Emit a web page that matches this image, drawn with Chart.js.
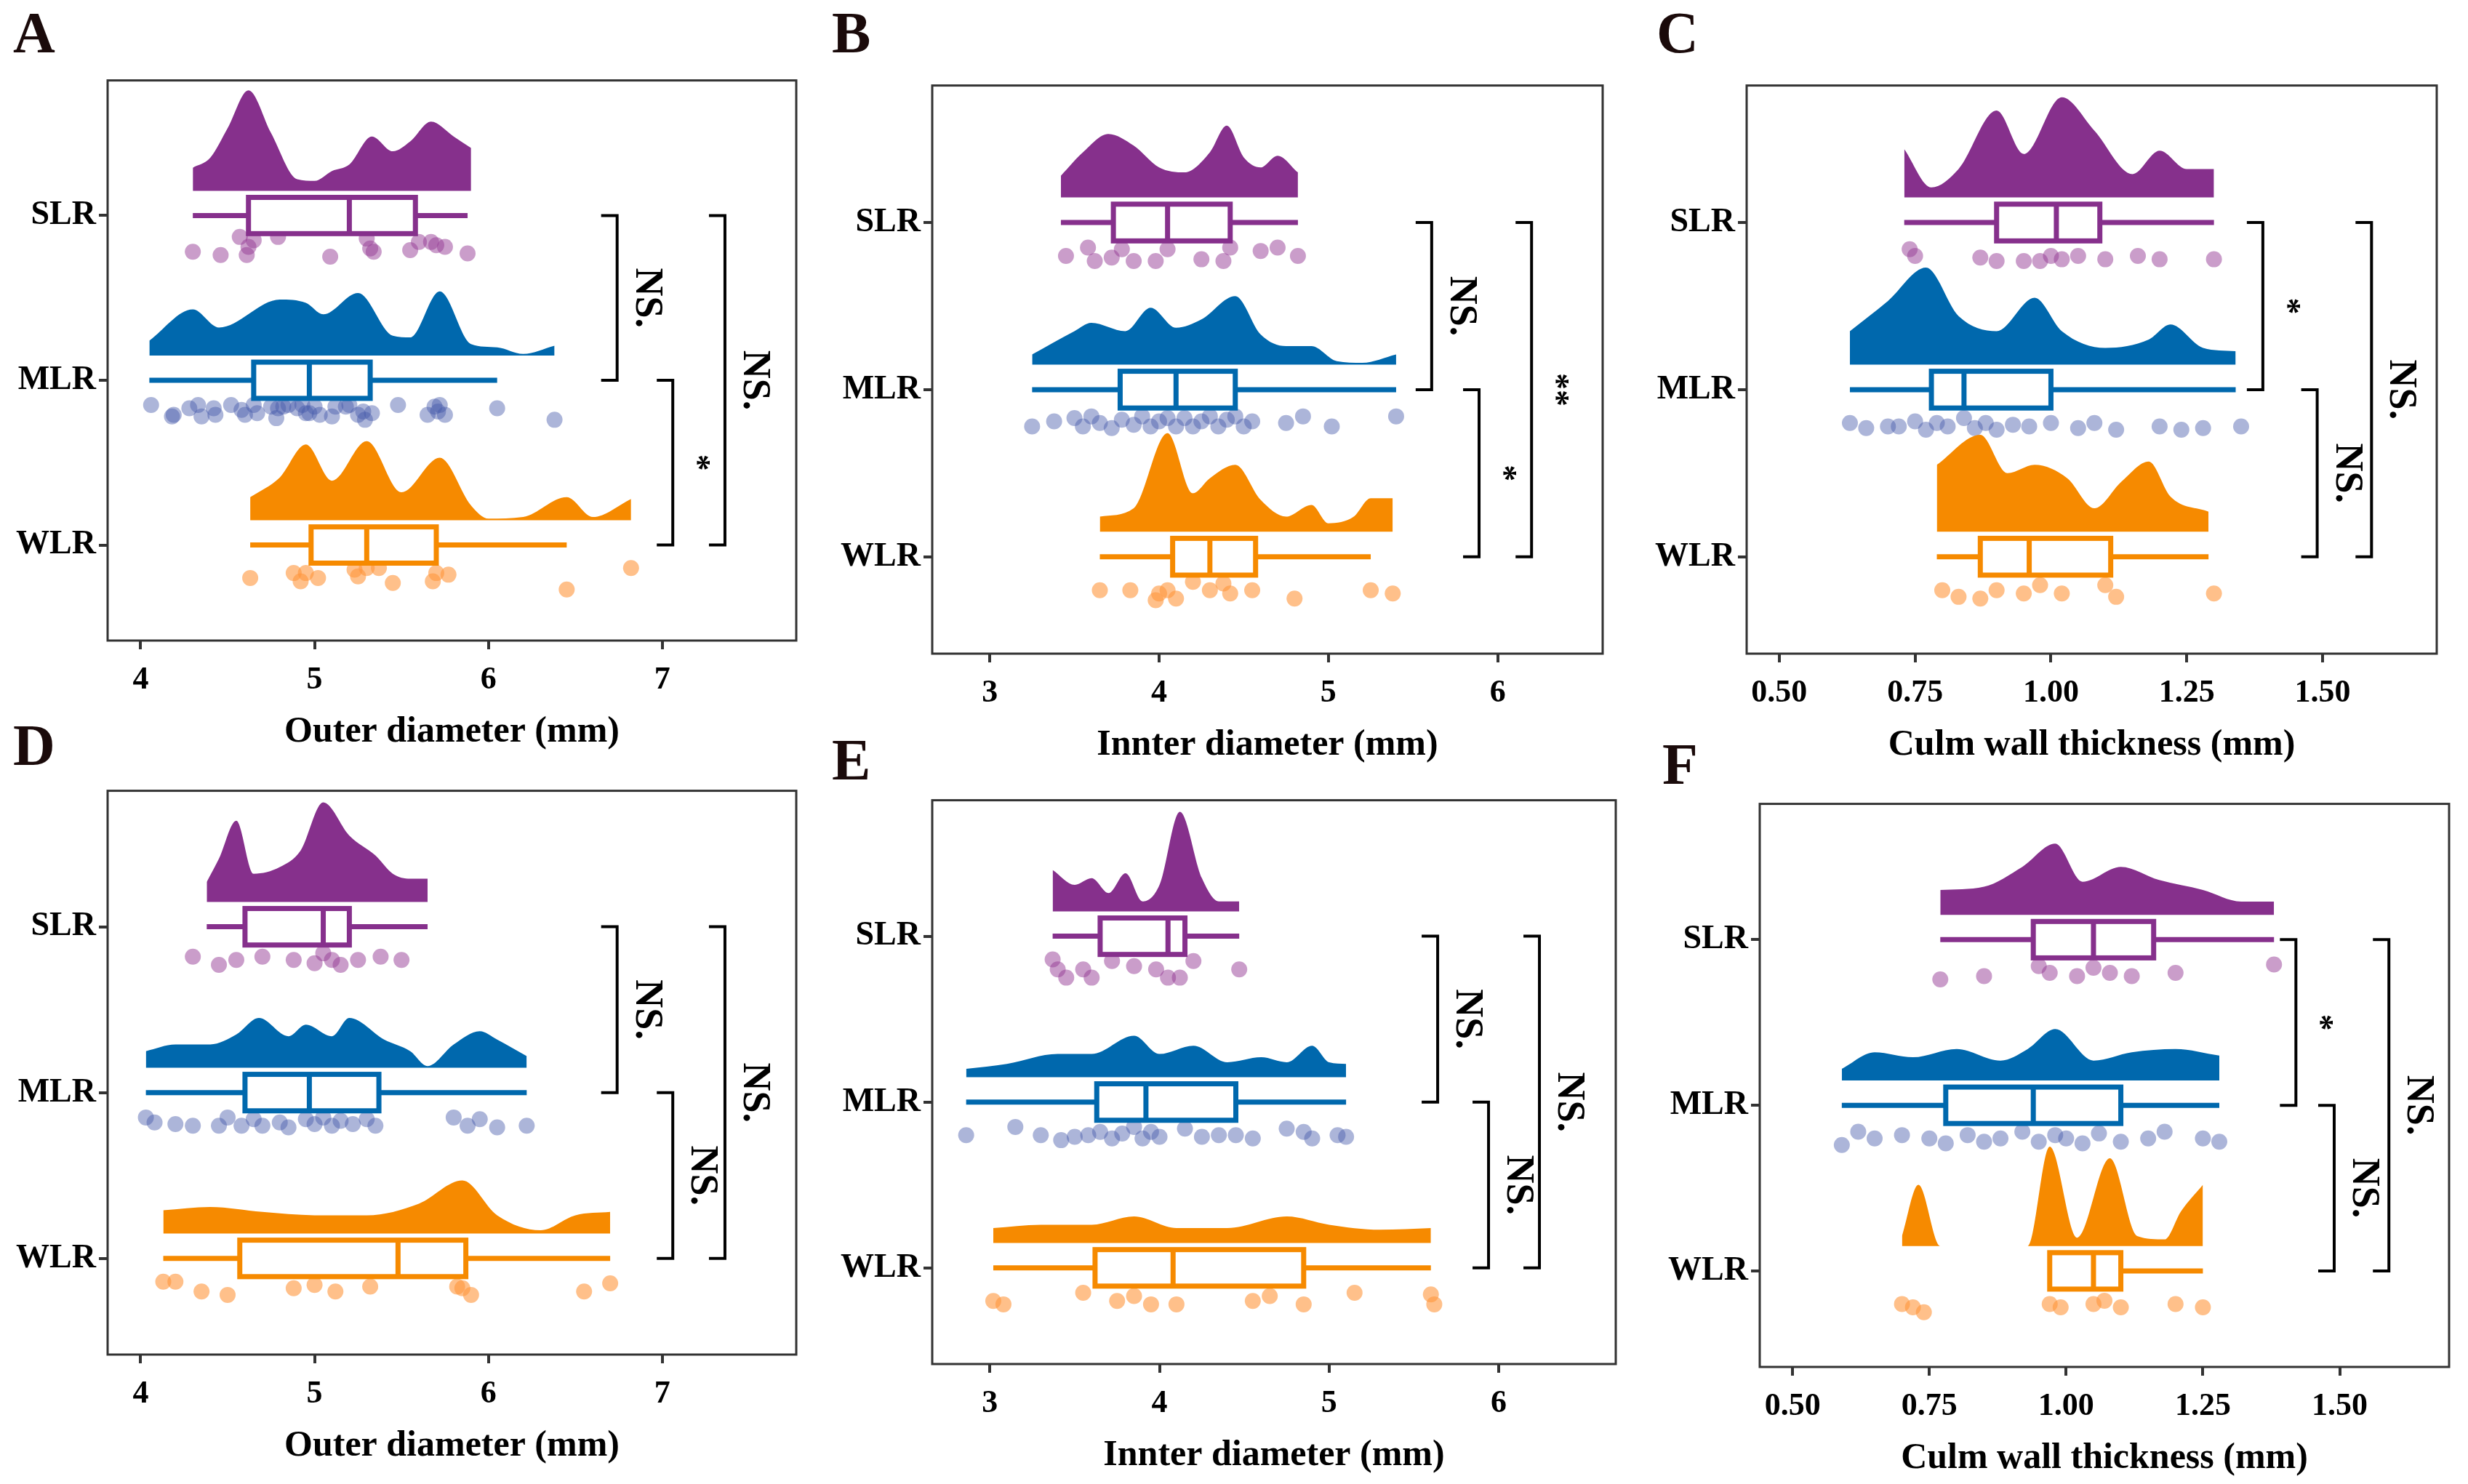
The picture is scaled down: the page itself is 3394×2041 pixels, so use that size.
<!DOCTYPE html>
<html><head><meta charset="utf-8">
<script src="https://cdn.jsdelivr.net/npm/chart.js@4.4.0/dist/chart.umd.min.js"></script>
<style>
body{margin:0;background:#fff;width:3394px;height:2041px;position:relative;overflow:hidden}
.pan{position:absolute}
.lt{position:absolute;font:bold 80px "Liberation Serif";color:#1a0a0a}
</style></head><body>
<div class="lt" style="left:18px;top:0px">A</div>
<div class="lt" style="left:1144px;top:0px">B</div>
<div class="lt" style="left:2278px;top:0px">C</div>
<div class="lt" style="left:18px;top:980px">D</div>
<div class="lt" style="left:1144px;top:1000px">E</div>
<div class="lt" style="left:2286px;top:1006px">F</div>
<script>
const groups = ["WLR","MLR","SLR"];   // y = 1,2,3
const colors = ["#f68a00","#0068ad","#86308c"];
const dotColors = ["rgba(255,150,60,0.6)","rgba(70,90,170,0.45)","rgba(150,60,150,0.5)"];

// ---- A: outer diameter ----
const aDensX = [
  [4.63,4.8,4.95,5.1,5.3,5.5,5.72,5.9,6.0,6.2,6.45,6.6,6.82],
  [4.05,4.3,4.45,4.8,4.95,5.05,5.25,5.45,5.55,5.72,5.9,6.05,6.2,6.38],
  [4.3,4.4,4.5,4.62,4.75,4.9,5.0,5.1,5.2,5.33,5.45,5.55,5.67,5.8,5.9]];
const aDensH = [
  [0.14,0.26,0.46,0.24,0.48,0.17,0.38,0.09,0.01,0.02,0.14,0.02,0.13],
  [0.09,0.28,0.17,0.34,0.32,0.25,0.38,0.12,0.11,0.39,0.07,0.05,0.01,0.06],
  [0.14,0.2,0.38,0.61,0.35,0.07,0.06,0.12,0.16,0.33,0.24,0.3,0.42,0.33,0.26]];
const aBox = [[4.63,4.98,5.3,5.7,6.45],[4.05,4.65,4.97,5.32,6.05],[4.3,4.62,5.2,5.58,5.88]];
const aDots = [
  [[4.63,.2],[4.88,.17],[4.92,.22],[4.95,.17],[5.02,.2],[5.23,.15],[5.25,.19],[5.3,.14],[5.37,.14],[5.45,.23],[5.68,.22],[5.7,.17],[5.77,.18],[6.45,.27],[6.82,.14]],
  [[4.06,.15],[4.18,.22],[4.19,.21],[4.28,.17],[4.33,.15],[4.35,.22],[4.42,.17],[4.43,.21],[4.52,.15],[4.58,.18],[4.6,.21],[4.65,.15],[4.67,.2],[4.75,.16],[4.78,.23],[4.79,.17],[4.82,.16],[4.85,.15],[4.9,.17],[4.93,.15],[4.95,.2],[4.97,.2],[5.0,.16],[5.03,.21],[5.1,.22],[5.12,.16],[5.18,.16],[5.2,.15],[5.25,.21],[5.28,.19],[5.29,.24],[5.33,.2],[5.48,.15],[5.65,.21],[5.69,.16],[5.71,.19],[5.72,.15],[5.75,.21],[6.05,.17],[6.38,.24]],
  [[4.3,.22],[4.46,.24],[4.57,.13],[4.61,.24],[4.62,.19],[4.65,.15],[4.79,.13],[5.09,.25],[5.3,.14],[5.32,.2],[5.34,.22],[5.55,.21],[5.6,.16],[5.67,.16],[5.7,.18],[5.75,.19],[5.88,.23]]];
const aTicks = [4,5,6,7];
const aBr = [{lo:2,hi:3,x:6.74,t:"NS."},{lo:1,hi:2,x:7.06,t:"*"},{lo:1,hi:3,x:7.36,t:"NS."}];

// ---- B: inner diameter ----
const bDensX = [
  [3.65,3.85,4.05,4.2,4.3,4.45,4.6,4.75,4.9,5.0,5.15,5.25,5.38],
  [3.25,3.5,3.6,3.8,3.95,4.1,4.25,4.45,4.6,4.75,4.9,5.05,5.2,5.4],
  [3.42,3.55,3.7,3.85,4.0,4.15,4.3,4.4,4.5,4.6,4.7,4.82]];
const bDensH = [
  [0.09,0.14,0.59,0.23,0.32,0.4,0.19,0.09,0.16,0.05,0.09,0.2,0.2],
  [0.06,0.2,0.25,0.2,0.34,0.22,0.27,0.41,0.18,0.11,0.11,0.02,0.01,0.06],
  [0.13,0.27,0.38,0.31,0.18,0.15,0.27,0.43,0.24,0.18,0.25,0.15]];
const bBox = [[3.65,4.08,4.3,4.57,5.25],[3.25,3.77,4.1,4.45,5.4],[3.42,3.73,4.05,4.42,4.82]];
const bDots = [
  [[3.65,.2],[3.83,.2],[3.98,.26],[4.0,.22],[4.05,.2],[4.1,.25],[4.2,.15],[4.3,.2],[4.38,.16],[4.42,.22],[4.55,.2],[4.8,.25],[5.25,.2],[5.38,.22]],
  [[3.25,.22],[3.38,.19],[3.5,.17],[3.55,.22],[3.6,.16],[3.65,.2],[3.72,.23],[3.78,.18],[3.85,.21],[3.9,.16],[3.95,.22],[4.0,.19],[4.05,.17],[4.1,.22],[4.15,.17],[4.2,.22],[4.25,.19],[4.3,.16],[4.35,.22],[4.4,.18],[4.45,.16],[4.5,.22],[4.55,.19],[4.75,.2],[4.85,.16],[5.02,.22],[5.4,.16]],
  [[3.45,.2],[3.58,.15],[3.62,.23],[3.72,.21],[3.78,.16],[3.85,.23],[3.98,.23],[4.05,.16],[4.25,.22],[4.38,.23],[4.42,.15],[4.6,.17],[4.7,.15],[4.82,.2]]];
const bTicks = [3,4,5,6];
const bBr = [{lo:2,hi:3,x:5.61,t:"NS."},{lo:1,hi:2,x:5.89,t:"*"},{lo:1,hi:3,x:6.2,t:"**"}];

// ---- C: culm wall thickness ----
const cDensX = [
  [0.79,0.87,0.92,0.97,1.03,1.08,1.13,1.18,1.22,1.29],
  [0.63,0.7,0.77,0.83,0.9,0.97,1.02,1.1,1.18,1.22,1.28,1.34],
  [0.73,0.78,0.83,0.9,0.95,1.02,1.08,1.15,1.2,1.25,1.3]];
const cDensH = [
  [0.4,0.58,0.35,0.4,0.32,0.14,0.3,0.42,0.21,0.12],
  [0.2,0.38,0.58,0.29,0.2,0.4,0.2,0.1,0.15,0.24,0.1,0.08],
  [0.29,0.06,0.17,0.52,0.26,0.6,0.4,0.14,0.28,0.17,0.17]];
const cBox = [[0.79,0.87,0.96,1.11,1.29],[0.63,0.78,0.84,1.0,1.34],[0.73,0.9,1.01,1.09,1.3]];
const cDots = [
  [[0.8,.2],[0.83,.24],[0.87,.25],[0.9,.2],[0.95,.22],[0.98,.17],[1.02,.22],[1.1,.17],[1.12,.24],[1.3,.22]],
  [[0.63,.2],[0.66,.23],[0.7,.22],[0.72,.22],[0.75,.19],[0.77,.24],[0.79,.2],[0.81,.22],[0.84,.17],[0.86,.23],[0.88,.2],[0.9,.24],[0.93,.21],[0.96,.22],[1.0,.2],[1.05,.23],[1.08,.2],[1.12,.24],[1.2,.22],[1.24,.24],[1.28,.23],[1.35,.22]],
  [[0.74,.16],[0.75,.2],[0.87,.21],[0.9,.23],[0.95,.23],[0.98,.23],[1.0,.2],[1.02,.22],[1.05,.2],[1.1,.22],[1.16,.2],[1.2,.22],[1.3,.22]]];
const cTicks = [0.5,0.75,1.0,1.25,1.5];
const cBr = [{lo:2,hi:3,x:1.39,t:"*"},{lo:1,hi:2,x:1.49,t:"NS."},{lo:1,hi:3,x:1.59,t:"NS."}];

// ---- D: outer diameter ----
const dDensX = [
  [4.13,4.4,4.7,5.0,5.3,5.6,5.85,6.05,6.3,6.5,6.7],
  [4.03,4.2,4.4,4.55,4.68,4.85,4.95,5.1,5.2,5.4,5.55,5.65,5.8,5.95,6.05,6.22],
  [4.38,4.45,4.55,4.65,4.8,4.92,5.05,5.2,5.35,5.45,5.55,5.65]];
const dDensH = [
  [0.14,0.16,0.13,0.11,0.11,0.18,0.32,0.11,0.02,0.11,0.13],
  [0.1,0.14,0.14,0.2,0.3,0.19,0.26,0.19,0.3,0.17,0.1,0.01,0.14,0.22,0.17,0.07],
  [0.12,0.26,0.49,0.17,0.21,0.31,0.6,0.4,0.28,0.17,0.14,0.14]];
const dBox = [[4.13,4.57,5.48,5.87,6.7],[4.03,4.6,4.97,5.37,6.22],[4.38,4.6,5.05,5.2,5.65]];
const dDots = [
  [[4.13,.14],[4.2,.14],[4.35,.2],[4.5,.22],[4.88,.18],[5.0,.16],[5.12,.2],[5.32,.17],[5.82,.17],[5.85,.18],[5.9,.22],[6.55,.2],[6.7,.15]],
  [[4.03,.15],[4.08,.18],[4.2,.19],[4.3,.2],[4.45,.2],[4.5,.15],[4.58,.2],[4.65,.16],[4.7,.2],[4.8,.18],[4.85,.21],[4.95,.16],[5.0,.19],[5.05,.15],[5.1,.2],[5.15,.17],[5.22,.19],[5.3,.16],[5.35,.2],[5.8,.15],[5.88,.2],[5.95,.16],[6.05,.21],[6.22,.2]],
  [[4.3,.18],[4.45,.23],[4.55,.2],[4.7,.18],[4.88,.2],[5.0,.22],[5.05,.16],[5.1,.2],[5.15,.23],[5.25,.2],[5.38,.18],[5.5,.2]]];
const dBr = [{lo:2,hi:3,x:6.74,t:"NS."},{lo:1,hi:2,x:7.06,t:"NS."},{lo:1,hi:3,x:7.36,t:"NS."}];

// ---- E: inner diameter ----
const eDensX = [
  [3.02,3.3,3.6,3.85,4.1,4.4,4.75,5.0,5.3,5.6],
  [2.86,3.1,3.4,3.6,3.85,4.0,4.2,4.4,4.6,4.75,4.9,5.0,5.1],
  [3.37,3.5,3.6,3.7,3.8,3.9,4.0,4.12,4.25,4.35,4.47]];
const eDensH = [
  [0.09,0.11,0.11,0.16,0.09,0.09,0.16,0.11,0.08,0.09],
  [0.05,0.08,0.14,0.14,0.25,0.14,0.19,0.09,0.12,0.09,0.19,0.09,0.08],
  [0.25,0.16,0.2,0.11,0.23,0.06,0.16,0.6,0.2,0.06,0.06]];
const eBox = [[3.02,3.62,4.08,4.85,5.6],[2.86,3.63,3.92,4.45,5.1],[3.37,3.65,4.05,4.15,4.47]];
const eDots = [
  [[3.02,.2],[3.08,.22],[3.55,.15],[3.75,.2],[3.85,.17],[3.95,.22],[4.1,.22],[4.55,.2],[4.65,.17],[4.85,.22],[5.15,.15],[5.6,.16],[5.62,.22]],
  [[2.86,.2],[3.15,.15],[3.3,.2],[3.42,.23],[3.5,.21],[3.58,.2],[3.65,.18],[3.72,.22],[3.78,.19],[3.85,.15],[3.9,.22],[3.95,.18],[4.0,.21],[4.15,.16],[4.25,.21],[4.35,.2],[4.45,.2],[4.55,.22],[4.75,.16],[4.85,.18],[4.9,.22],[5.05,.2],[5.1,.21]],
  [[3.37,.14],[3.4,.2],[3.45,.25],[3.55,.2],[3.6,.25],[3.72,.15],[3.85,.18],[3.98,.2],[4.05,.25],[4.12,.25],[4.2,.15],[4.47,.2]]];
const eBr = [{lo:2,hi:3,x:5.64,t:"NS."},{lo:1,hi:2,x:5.94,t:"NS."},{lo:1,hi:3,x:6.24,t:"NS."}];

// ---- F: culm wall thickness ----
const fDensX = [
  [0.70,0.73,0.77,0.85,0.93,0.97,1.02,1.08,1.13,1.18,1.21,1.25],
  [0.59,0.65,0.72,0.8,0.88,0.93,0.98,1.05,1.12,1.2,1.28],
  [0.77,0.85,0.92,0.98,1.03,1.1,1.17,1.25,1.32,1.38]];
const fDensH = [
  [0.06,0.37,0.0,0.0,0.0,0.6,0.05,0.53,0.06,0.04,0.21,0.37],
  [0.07,0.17,0.14,0.19,0.12,0.19,0.31,0.12,0.17,0.19,0.15],
  [0.15,0.17,0.29,0.43,0.2,0.29,0.21,0.15,0.08,0.08]];
const fBox = [[0.97,0.97,1.05,1.1,1.25],[0.59,0.78,0.94,1.1,1.28],[0.77,0.94,1.05,1.16,1.38]];
const fDots = [
  [[0.7,.2],[0.72,.22],[0.74,.25],[0.97,.2],[0.99,.22],[1.05,.2],[1.07,.18],[1.1,.22],[1.2,.2],[1.25,.22]],
  [[0.59,.24],[0.62,.16],[0.65,.2],[0.7,.18],[0.75,.2],[0.78,.23],[0.82,.18],[0.85,.22],[0.88,.2],[0.92,.16],[0.95,.22],[0.98,.18],[1.0,.2],[1.03,.23],[1.06,.17],[1.1,.22],[1.15,.2],[1.18,.16],[1.25,.2],[1.28,.22]],
  [[0.77,.24],[0.85,.22],[0.95,.16],[0.97,.2],[1.02,.22],[1.05,.17],[1.08,.2],[1.12,.22],[1.2,.2],[1.38,.15]]];
const fBr = [{lo:2,hi:3,x:1.42,t:"*"},{lo:1,hi:2,x:1.49,t:"NS."},{lo:1,hi:3,x:1.59,t:"NS."}];

const YAXW = 150, XAXH = 160, PAD = 12;
const serif = "Liberation Serif";

const boxPlugin = {
  id: "boxes",
  afterDatasetsDraw(chart, args, o) {
    const {ctx, scales: {x, y}} = chart;
    ctx.save();
    o.box.forEach((b, i) => {
      const c = i + 1, col = colors[i];
      const yc = y.getPixelForValue(c), h = y.getPixelForValue(c) - y.getPixelForValue(c + 0.11);
      ctx.strokeStyle = col; ctx.lineWidth = 7;
      ctx.beginPath();
      ctx.moveTo(x.getPixelForValue(b[0]), yc); ctx.lineTo(x.getPixelForValue(b[1]), yc);
      ctx.moveTo(x.getPixelForValue(b[3]), yc); ctx.lineTo(x.getPixelForValue(b[4]), yc);
      ctx.stroke();
      const x1 = x.getPixelForValue(b[1]), x3 = x.getPixelForValue(b[3]);
      ctx.fillStyle = "#fff"; ctx.fillRect(x1, yc - h, x3 - x1, 2 * h);
      ctx.strokeRect(x1, yc - h, x3 - x1, 2 * h);
      ctx.beginPath(); ctx.moveTo(x.getPixelForValue(b[2]), yc - h); ctx.lineTo(x.getPixelForValue(b[2]), yc + h); ctx.stroke();
    });
    // brackets
    ctx.strokeStyle = "#000"; ctx.fillStyle = "#000"; ctx.lineWidth = 4;
    o.br.forEach(br => {
      const px = x.getPixelForValue(br.x), tk = 22;
      const y1 = y.getPixelForValue(br.hi), y2 = y.getPixelForValue(br.lo);
      ctx.beginPath();
      ctx.moveTo(px - tk, y1); ctx.lineTo(px, y1); ctx.lineTo(px, y2); ctx.lineTo(px - tk, y2);
      ctx.stroke();
      ctx.save();
      ctx.translate(px + 40, (y1 + y2) / 2);
      ctx.rotate(Math.PI / 2);
      ctx.textAlign = "center"; ctx.textBaseline = "middle";
      ctx.font = br.t === "NS." ? `bold 54px "${serif}"` : `bold 46px "${serif}"`;
      ctx.fillText(br.t, 0, br.t === "NS." ? 0 : 8);
      ctx.restore();
    });
    // frame
    const a = chart.chartArea;
    ctx.strokeStyle = "#333"; ctx.lineWidth = 3;
    ctx.strokeRect(a.left, a.top, a.right - a.left, a.bottom - a.top);
    ctx.restore();
  }
};

function panel(L, R, T, B, xmin, xmax, ticks, tickDp, title, densX, densH, box, dots, br) {
  const div = document.createElement("div");
  div.className = "pan";
  const w = R - L + YAXW + PAD, h = B - T + XAXH + PAD;
  div.style.cssText = `left:${L - YAXW}px;top:${T - PAD}px;width:${w}px;height:${h}px`;
  const cv = document.createElement("canvas");
  div.appendChild(cv); document.body.appendChild(div);
  const ds = [];
  groups.forEach((g, i) => {
    const c = i + 1;
    ds.push({type: "line", data: densX[i].map((v, k) => ({x: v, y: c + 0.15 + densH[i][k]})),
      fill: {value: c + 0.15}, backgroundColor: colors[i], borderWidth: 0, pointRadius: 0, tension: 0.4, cubicInterpolationMode: "monotone"});
    ds.push({type: "scatter", data: dots[i].map(d => ({x: d[0], y: c - d[1]})),
      backgroundColor: dotColors[i], borderWidth: 0, pointRadius: 11});
  });
  new Chart(cv, {
    data: {datasets: ds},
    options: {
      responsive: true, maintainAspectRatio: false, animation: false,
      layout: {padding: {top: PAD, right: PAD}},
      plugins: {legend: {display: false}, tooltip: {enabled: false}, boxes: {box, br}},
      scales: {
        x: {type: "linear", min: xmin, max: xmax,
          afterBuildTicks: s => { s.ticks = ticks.map(v => ({value: v})); },
          afterFit: s => { s.height = XAXH; },
          grid: {drawOnChartArea: false, tickLength: 12, color: "#333", lineWidth: 4},
          border: {display: false},
          ticks: {color: "#000", padding: 16, font: {family: serif, weight: "bold", size: 44}, callback: v => v.toFixed(tickDp)},
          title: {display: true, text: title, color: "#000", padding: {top: 0}, font: {family: serif, weight: "bold", size: 50}}},
        y: {type: "linear", min: 0.42, max: 3.82,
          afterBuildTicks: s => { s.ticks = [1, 2, 3].map(v => ({value: v})); },
          afterFit: s => { s.width = YAXW; },
          grid: {drawOnChartArea: false, tickLength: 12, color: "#333", lineWidth: 4},
          border: {display: false},
          ticks: {color: "#000", padding: 4, font: {family: serif, weight: "bold", size: 46}, callback: v => groups[v - 1]}}
      }
    },
    plugins: [boxPlugin]
  });
}

panel(148, 1095, 91, 881, 3.81, 7.77, aTicks, 0, "Outer diameter (mm)", aDensX, aDensH, aBox, aDots, aBr);
panel(1282, 2204, 98, 899, 2.66, 6.62, bTicks, 0, "Innter diameter (mm)", bDensX, bDensH, bBox, bDots, bBr);
panel(2402, 3351, 98, 899, 0.44, 1.71, cTicks, 2, "Culm wall thickness (mm)", cDensX, cDensH, cBox, cDots, cBr);
panel(148, 1095, 1068, 1863, 3.81, 7.77, aTicks, 0, "Outer diameter (mm)", dDensX, dDensH, dBox, dDots, dBr);
panel(1282, 2222, 1081, 1876, 2.66, 6.69, bTicks, 0, "Innter diameter (mm)", eDensX, eDensH, eBox, eDots, eBr);
panel(2420, 3368, 1086, 1880, 0.44, 1.70, cTicks, 2, "Culm wall thickness (mm)", fDensX, fDensH, fBox, fDots, fBr);
</script></body></html>
